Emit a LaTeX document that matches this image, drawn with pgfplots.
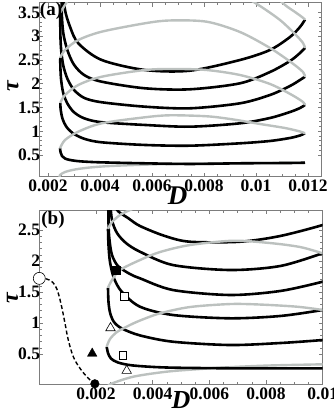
\documentclass[border=0pt]{standalone}
\usepackage{pgfplots}
\pgfplotsset{compat=1.18}
\usepackage{fontspec}
\setmainfont{Liberation Serif}
\definecolor{framegray}{RGB}{125,125,125}
\definecolor{lgray}{RGB}{188,193,191}
\pgfplotsset{
  mstyle/.style={
    scale only axis, anchor=north west,
    axis line style={draw=framegray, line width=0.9pt},
    tick style={draw=framegray, line width=0.6pt},
    major tick length=4pt, minor tick length=2.5pt,
    tick align=inside, tick pos=both,
    xticklabel pos=lower, yticklabel pos=left,
    tick label style={font=\bfseries\fontsize{17.5}{17.5}\selectfont, text=black},
    xticklabel style={inner sep=1pt, yshift=-2pt},
    yticklabel style={inner sep=0.5pt, xshift=1.5pt},
    scaled ticks=false,
    clip=true,
  },
  bl/.style={black, line width=2.6pt, smooth, tension=0.5},
  gr/.style={lgray, line width=2.4pt, smooth, tension=0.5},
}
\begin{document}
\begin{tikzpicture}
\useasboundingbox (0,0) rectangle (334pt,-415pt);
% ---------------- panel (a)
\begin{axis}[mstyle, at={(39.3pt,-2.7pt)}, width=282.4pt, height=174pt,
  xmin=0.001665, xmax=0.012527, ymin=0.043, ymax=3.706,
  xtick={0.002,0.004,0.006,0.008,0.01,0.012},
  xticklabels={0.002,0.004,0.006,0.008,0.01,0.012},
  ytick={0.5,1,1.5,2,2.5,3,3.5},
  yticklabels={0.5,1,1.5,2,2.5,3,3.5},
  minor x tick num=3, minor y tick num=4]
\addplot[gr] coordinates {(0.00245,0.03)(0.0024615,0.079)(0.0026538,0.142)(0.0030385,0.195)(0.0036154,0.237)(0.0043846,0.268)(0.0059231,0.300)(0.0074615,0.319)(0.0093846,0.327)(0.0118846,0.338)};
\addplot[bl] coordinates {(0.0024615,0.641)(0.0024846,0.553)(0.0025385,0.479)(0.0026538,0.426)(0.0028462,0.395)(0.0032308,0.367)(0.004,0.346)(0.0057308,0.325)(0.0074615,0.311)(0.0093846,0.325)(0.0113077,0.332)(0.0118846,0.338)};
\addplot[bl] coordinates {(0.0024731,1.595)(0.0024900,1.447)(0.0025600,1.260)(0.0027000,1.100)(0.0029500,0.960)(0.0034000,0.840)(0.0040654,0.767)(0.0057308,0.711)(0.0074615,0.696)(0.0093846,0.746)(0.0105385,0.795)(0.0113077,0.858)(0.0116923,0.911)(0.0118846,0.957)};
\addplot[bl] coordinates {(0.0024731,2.548)(0.0024750,2.359)(0.0025050,2.079)(0.0025885,1.799)(0.0027500,1.580)(0.0030000,1.400)(0.0034000,1.270)(0.0040654,1.190)(0.0057308,1.132)(0.0074615,1.096)(0.0093846,1.167)(0.0105385,1.279)(0.0113077,1.405)(0.0116923,1.489)(0.0118846,1.553)};
\addplot[bl] coordinates {(0.0024731,3.504)(0.0024750,3.062)(0.0025050,2.711)(0.0025885,2.380)(0.0027500,2.100)(0.0030000,1.870)(0.0034000,1.700)(0.0040654,1.610)(0.0057308,1.517)(0.0074615,1.483)(0.0093846,1.588)(0.0105385,1.763)(0.0113077,1.953)(0.0116923,2.079)(0.0118846,2.148)};
\addplot[bl] coordinates {(0.0025269,3.974)(0.0025300,3.483)(0.0025885,3.062)(0.0027500,2.700)(0.0030000,2.400)(0.0034000,2.180)(0.0040654,2.043)(0.0057308,1.904)(0.0074615,1.883)(0.0093846,2.009)(0.0105385,2.247)(0.0113077,2.479)(0.0116923,2.647)(0.0118846,2.753)};
\addplot[bl] coordinates {(0.0025885,3.974)(0.0026538,3.553)(0.0028462,3.201)(0.0031654,2.851)(0.0040654,2.5)(0.0057308,2.289)(0.0074615,2.275)(0.0093846,2.5)(0.0105385,2.711)(0.0113077,2.984)(0.0116923,3.195)(0.0118846,3.351)};
\addplot[gr] coordinates {(0.0024615,0.641)(0.0026538,0.816)(0.0031654,0.991)(0.0040654,1.167)(0.0057308,1.294)(0.0066923,1.336)(0.0081038,1.315)(0.009,1.258)(0.0101538,1.153)(0.0111154,1.068)(0.0116923,0.995)(0.0118846,0.957)};
\addplot[gr] coordinates {(0.0024731,1.595)(0.0026538,1.763)(0.0031654,1.974)(0.0040654,2.148)(0.0057308,2.289)(0.0068846,2.311)(0.0081038,2.289)(0.0093846,2.184)(0.0105385,1.995)(0.0113846,1.763)(0.0118077,1.616)(0.0118846,1.553)};
\addplot[gr] coordinates {(0.0024731,2.548)(0.0026538,2.711)(0.0031654,2.921)(0.0040654,3.096)(0.0057308,3.273)(0.0066923,3.332)(0.0081038,3.306)(0.0093846,3.089)(0.0105385,2.753)(0.0113846,2.437)(0.0118077,2.247)(0.0118846,2.148)};
\addplot[gr] coordinates {(0.0024731,3.504)(0.0026538,3.658)(0.0028462,3.826)(0.0031538,4.016)};
\addplot[gr] coordinates {(0.0088077,4.016)(0.0093846,3.889)(0.0101538,3.637)(0.0109231,3.342)(0.0115,3.047)(0.0118077,2.858)(0.0118846,2.753)};
\addplot[gr] coordinates {(0.0107308,3.868)(0.0111154,3.658)(0.0115,3.511)(0.0117692,3.405)(0.0118846,3.351)};
\end{axis}
% ---------------- panel (b)
\begin{axis}[mstyle, at={(39.3pt,-210pt)}, width=283.4pt, height=174.3pt,
  xmin=0, xmax=0.01, ymin=0.0113, ymax=2.823,
  xtick={0.002,0.004,0.006,0.008,0.01},
  xticklabels={0.002,0.004,0.006,0.008,0.01},
  ytick={0.5,1,1.5,2,2.5},
  yticklabels={0.5,1,1.5,2,2.5},
  minor x tick num=3, minor y tick num=4]
\addplot[gr] coordinates {(0.00245,-0.05)(0.0024947,0.011)(0.0033169,0.134)(0.0044954,0.215)(0.0056705,0.258)(0.0068349,0.290)(0.0081405,0.315)(0.01,0.334)(0.0105,0.34)};
\addplot[bl] coordinates {(0.0023783,0.618)(0.0024241,0.516)(0.00253,0.427)(0.002777,0.363)(0.0033063,0.315)(0.004506,0.282)(0.0068349,0.269)(0.0088462,0.269)(0.01,0.269)(0.0105,0.27)};
\addplot[bl] coordinates {(0.0024241,1.569)(0.0024418,1.339)(0.0025000,1.161)(0.0026358,1.016)(0.0029181,0.911)(0.0035533,0.800)(0.0047177,0.698)(0.006729,0.645)(0.0084933,0.677)(0.01,0.726)(0.0105,0.76)};
\addplot[bl] coordinates {(0.0024241,2.519)(0.0024418,2.258)(0.0024947,1.984)(0.0026358,1.721)(0.0029181,1.5)(0.0035533,1.263)(0.0047177,1.129)(0.006729,1.076)(0.0084933,1.113)(0.01,1.21)(0.0105,1.26)};
\addplot[bl] coordinates {(0.0024418,2.984)(0.0024440,2.581)(0.002477,2.339)(0.0025653,2.097)(0.002777,1.919)(0.0032004,1.790)(0.0035533,1.721)(0.0047177,1.532)(0.006729,1.452)(0.0084933,1.516)(0.01,1.666)(0.0105,1.74)};
\addplot[bl] coordinates {(0.0024947,2.984)(0.0025653,2.661)(0.0027417,2.452)(0.0030593,2.290)(0.0035533,2.150)(0.0047177,1.935)(0.006729,1.855)(0.0084933,1.919)(0.01,2.124)(0.0105,2.2)};
\addplot[bl] coordinates {(0.00253,2.984)(0.002777,2.806)(0.0031299,2.694)(0.0035533,2.565)(0.0044354,2.403)(0.0053176,2.311)(0.0070762,2.311)(0.0084933,2.403)(0.01,2.581)(0.0105,2.68)};
\addplot[gr] coordinates {(0.0023783,0.618)(0.0024947,0.742)(0.0027417,0.855)(0.0031299,0.952)(0.0035533,1.040)(0.004259,1.156)(0.0053176,1.258)(0.006729,1.306)(0.0077876,1.298)(0.0090931,1.263)(0.01,1.210)(0.0105,1.17)};
\addplot[gr] coordinates {(0.0024241,1.569)(0.0025653,1.694)(0.0028476,1.855)(0.0035533,2.016)(0.004259,2.145)(0.0053176,2.258)(0.0068349,2.327)(0.0081405,2.290)(0.009199,2.226)(0.01,2.124)(0.0105,2.05)};
\addplot[gr] coordinates {(0.0024241,2.519)(0.0025653,2.629)(0.0028476,2.742)(0.0032004,2.823)(0.0035533,2.887)};
% dashed curve and markers
\addplot[black, line width=1.4pt, dash pattern=on 4pt off 2.5pt, smooth, tension=0.6] coordinates {(0,1.72)(0.000141,1.72)(0.000378,1.69)(0.000554,1.61)(0.00067,1.48)(0.00079,1.26)(0.000907,0.995)(0.001023,0.726)(0.0012,0.457)(0.001436,0.269)(0.001729,0.108)(0.00196,0.02)};
\addplot[only marks, mark=*, mark size=6pt, mark options={fill=white, draw=black, line width=0.6pt}] coordinates {(0,1.72)};
\addplot[only marks, mark=*, mark size=4.3pt, mark options={fill=black, draw=black}] coordinates {(0.00196,0.02)};
\addplot[only marks, mark=square*, mark size=3.8pt, mark options={fill=black, draw=black}] coordinates {(0.0027064,1.855)};
\addplot[only marks, mark=square*, mark size=3.8pt, mark options={fill=white, draw=black, line width=0.6pt}] coordinates {(0.0029887,1.435)(0.0029428,0.476)};
\addplot[only marks, mark=triangle*, mark size=5.5pt, mark options={fill=white, draw=black, line width=0.6pt}] coordinates {(0.0025123,0.919)(0.003084,0.231)};
\addplot[only marks, mark=triangle*, mark size=5.5pt, mark options={fill=black, draw=black}] coordinates {(0.0018666,0.508)};
\end{axis}
% labels
\node[font=\bfseries\fontsize{19}{19}\selectfont, inner sep=0pt] at (51pt,-10.5pt) {(a)};
\node[font=\bfseries\fontsize{19}{19}\selectfont, inner sep=0pt] at (53pt,-220pt) {(b)};
\node[font=\bfseries\itshape\fontsize{27}{27}\selectfont, inner sep=0pt] at (177.5pt,-196pt) {D};
\node[font=\bfseries\itshape\fontsize{26}{26}\selectfont, inner sep=0pt] at (181pt,-400pt) {D};
\node[rotate=90, font=\bfseries\itshape\fontsize{24}{24}\selectfont, inner sep=0pt] at (13pt,-86pt) {τ};
\node[rotate=90, font=\bfseries\itshape\fontsize{24}{24}\selectfont, inner sep=0pt] at (12.5pt,-298pt) {τ};
\end{tikzpicture}
\end{document}
